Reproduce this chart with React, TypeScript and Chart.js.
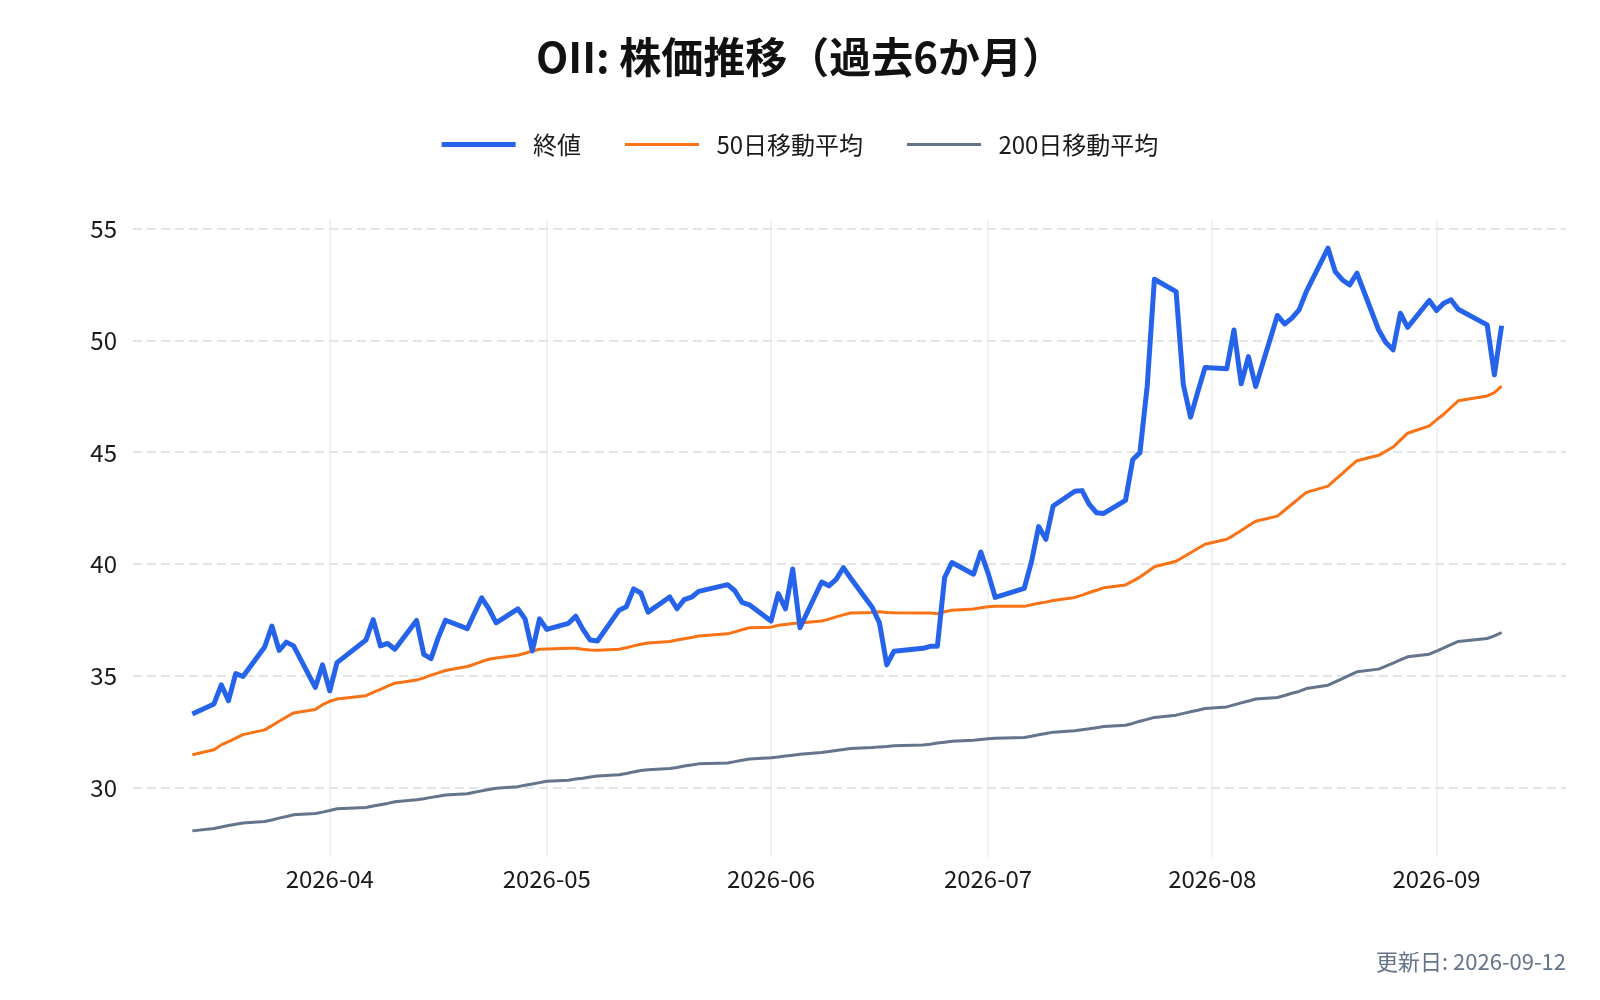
import { useEffect, useRef } from "react";
import Chart from "chart.js/auto";

// trading days (business days, US holidays skipped)
const dates = [
  "2026-03-13", "2026-03-16", "2026-03-17", "2026-03-18", "2026-03-19", "2026-03-20", "2026-03-23", "2026-03-24", "2026-03-25", "2026-03-26", "2026-03-27", "2026-03-30", "2026-03-31",
  "2026-04-01", "2026-04-02", "2026-04-06", "2026-04-07", "2026-04-08", "2026-04-09", "2026-04-10", "2026-04-13", "2026-04-14", "2026-04-15", "2026-04-16", "2026-04-17", "2026-04-20", "2026-04-21", "2026-04-22", "2026-04-23", "2026-04-24", "2026-04-27", "2026-04-28", "2026-04-29", "2026-04-30",
  "2026-05-01", "2026-05-04", "2026-05-05", "2026-05-06", "2026-05-07", "2026-05-08", "2026-05-11", "2026-05-12", "2026-05-13", "2026-05-14", "2026-05-15", "2026-05-18", "2026-05-19", "2026-05-20", "2026-05-21", "2026-05-22", "2026-05-26", "2026-05-27", "2026-05-28", "2026-05-29",
  "2026-06-01", "2026-06-02", "2026-06-03", "2026-06-04", "2026-06-05", "2026-06-08", "2026-06-09", "2026-06-10", "2026-06-11", "2026-06-12", "2026-06-15", "2026-06-16", "2026-06-17", "2026-06-18", "2026-06-22", "2026-06-23", "2026-06-24", "2026-06-25", "2026-06-26", "2026-06-29", "2026-06-30",
  "2026-07-01", "2026-07-02", "2026-07-06", "2026-07-07", "2026-07-08", "2026-07-09", "2026-07-10", "2026-07-13", "2026-07-14", "2026-07-15", "2026-07-16", "2026-07-17", "2026-07-20", "2026-07-21", "2026-07-22", "2026-07-23", "2026-07-24", "2026-07-27", "2026-07-28", "2026-07-29", "2026-07-30", "2026-07-31",
  "2026-08-03", "2026-08-04", "2026-08-05", "2026-08-06", "2026-08-07", "2026-08-10", "2026-08-11", "2026-08-12", "2026-08-13", "2026-08-14", "2026-08-17", "2026-08-18", "2026-08-19", "2026-08-20", "2026-08-21", "2026-08-24", "2026-08-25", "2026-08-26", "2026-08-27", "2026-08-28", "2026-08-31",
  "2026-09-01", "2026-09-02", "2026-09-03", "2026-09-04", "2026-09-08", "2026-09-09", "2026-09-10",
];

const closePrices = [
  33.29, 33.74, 34.6, 33.89, 35.1, 34.97, 36.29, 37.23, 36.14, 36.51, 36.34, 34.48, 35.49,
  34.33, 35.59, 36.6, 37.52, 36.34, 36.45, 36.19, 37.48, 35.96, 35.77, 36.71, 37.49, 37.11, 37.8, 38.49, 38.0, 37.37, 38.0, 37.55, 36.11, 37.55,
  37.08, 37.35, 37.67, 37.08, 36.6, 36.56, 37.94, 38.09, 38.89, 38.71, 37.85, 38.53, 38.0, 38.41, 38.52, 38.78, 39.08, 38.81, 38.29, 38.18,
  37.45, 38.68, 38.0, 39.78, 37.15, 39.2, 39.03, 39.32, 39.84, 39.38, 38.06, 37.36, 35.49, 36.1, 36.23, 36.32, 36.32, 39.4, 40.07, 39.55, 40.54,
  39.6, 38.51, 38.91, 40.1, 41.68, 41.11, 42.6, 43.26, 43.29, 42.67, 42.3, 42.27, 42.85, 44.67, 44.99, 47.95, 52.75, 52.2, 48.03, 46.58, 47.71, 48.8,
  48.74, 50.48, 48.07, 49.29, 47.95, 51.13, 50.75, 51.01, 51.38, 52.2, 54.14, 53.09, 52.72, 52.5, 53.02, 50.48, 49.92, 49.59, 51.23, 50.6, 51.8,
  51.35, 51.68, 51.83, 51.41, 50.71, 48.47, 50.67,
];

const ma50 = [
  31.47, 31.69, 31.91, 32.05, 32.21, 32.37, 32.58, 32.77, 32.97, 33.16, 33.34, 33.49, 33.71,
  33.86, 33.96, 34.11, 34.26, 34.39, 34.54, 34.67, 34.81, 34.91, 35.03, 35.13, 35.24, 35.42, 35.52, 35.64, 35.74, 35.8, 35.92, 36.01, 36.11, 36.19,
  36.2, 36.23, 36.23, 36.19, 36.16, 36.14, 36.19, 36.26, 36.34, 36.41, 36.47, 36.54, 36.6, 36.66, 36.72, 36.78, 36.88, 36.97, 37.06, 37.15,
  37.18, 37.26, 37.3, 37.34, 37.37, 37.45, 37.54, 37.64, 37.73, 37.81, 37.84, 37.87, 37.84, 37.82, 37.81, 37.81, 37.78, 37.87, 37.94, 37.99, 38.05,
  38.09, 38.11, 38.11, 38.18, 38.25, 38.3, 38.37, 38.51, 38.61, 38.73, 38.83, 38.94, 39.07, 39.24, 39.42, 39.65, 39.88, 40.13, 40.32, 40.51, 40.7, 40.89,
  41.11, 41.3, 41.51, 41.72, 41.92, 42.15, 42.41, 42.68, 42.94, 43.21, 43.49, 43.78, 44.06, 44.35, 44.63, 44.87, 45.05, 45.24, 45.55, 45.86, 46.19,
  46.46, 46.71, 47.01, 47.31, 47.53, 47.68, 47.97,
];

const ma200 = [
  28.06, 28.17, 28.23, 28.3, 28.36, 28.41, 28.48, 28.55, 28.63, 28.7, 28.78, 28.84, 28.9,
  28.97, 29.05, 29.11, 29.17, 29.23, 29.29, 29.36, 29.45, 29.5, 29.56, 29.61, 29.67, 29.72, 29.79, 29.85, 29.91, 29.97, 30.04, 30.1, 30.16, 30.22,
  30.28, 30.33, 30.38, 30.42, 30.47, 30.52, 30.57, 30.63, 30.7, 30.76, 30.8, 30.85, 30.9, 30.96, 31.01, 31.06, 31.1, 31.16, 31.22, 31.28,
  31.33, 31.37, 31.41, 31.45, 31.49, 31.57, 31.61, 31.66, 31.7, 31.75, 31.79, 31.82, 31.84, 31.87, 31.9, 31.94, 31.99, 32.03, 32.07, 32.12, 32.15,
  32.18, 32.21, 32.24, 32.3, 32.36, 32.42, 32.48, 32.54, 32.59, 32.63, 32.68, 32.73, 32.79, 32.87, 32.97, 33.05, 33.14, 33.24, 33.32, 33.39, 33.46, 33.54,
  33.61, 33.7, 33.79, 33.87, 33.96, 34.03, 34.12, 34.22, 34.3, 34.43, 34.58, 34.73, 34.88, 35.03, 35.18, 35.3, 35.43, 35.57, 35.71, 35.85, 35.97,
  36.11, 36.25, 36.4, 36.54, 36.67, 36.79, 36.94,
];

const monthTicks = ["2026-04", "2026-05", "2026-06", "2026-07", "2026-08", "2026-09"];
const yTicks = [30, 35, 40, 45, 50, 55];

// date string -> days since epoch (month strings count as the 1st)
const dayNum = (s: string) => {
  const [y, m, d] = s.split("-").map(Number);
  return Date.UTC(y, m - 1, d || 1) / 86400000;
};

const FONT = '"Noto Sans CJK JP", "Noto Sans", sans-serif';

// push the plot area down below the legend
const legendGap = {
  id: "legendGap",
  beforeInit(chart: any) {
    if (!chart.legend) return;
    const fit = chart.legend.fit;
    chart.legend.fit = function () {
      fit.call(this);
      this.height += 53;
    };
  },
};

export default function App() {
  const canvasRef = useRef<HTMLCanvasElement>(null);

  useEffect(() => {
    document.body.style.margin = "0";
    if (!canvasRef.current) return;
    Chart.defaults.font.family = FONT;

    const xs = dates.map(dayNum);
    const toPoints = (vals: number[]) => vals.map((v, i) => ({ x: xs[i], y: v }));
    const first = xs[0];
    const last = xs[xs.length - 1];

    const chart = new Chart(canvasRef.current, {
      type: "line",
      data: {
        datasets: [
          {
            label: "終値",
            data: toPoints(closePrices),
            borderColor: "#2563eb",
            backgroundColor: "#2563eb",
            borderWidth: 5,
            pointRadius: 0,
            borderJoinStyle: "round",
          },
          {
            label: "50日移動平均",
            data: toPoints(ma50),
            borderColor: "#f97316",
            backgroundColor: "#f97316",
            borderWidth: 3,
            pointRadius: 0,
            borderJoinStyle: "round",
          },
          {
            label: "200日移動平均",
            data: toPoints(ma200),
            borderColor: "#64748b",
            backgroundColor: "#64748b",
            borderWidth: 3,
            pointRadius: 0,
            borderJoinStyle: "round",
          },
        ],
      },
      options: {
        animation: false,
        responsive: true,
        maintainAspectRatio: false,
        layout: { padding: { left: 34, right: 34, top: 0, bottom: 0 } },
        plugins: {
          title: {
            display: true,
            text: "OII: 株価推移（過去6か月）",
            color: "#111111",
            font: { size: 42, weight: "bold" },
            padding: { top: 32, bottom: 6 },
          },
          subtitle: {
            display: true,
            position: "bottom",
            align: "end",
            text: "更新日: 2026-09-12",
            color: "#64748b",
            font: { size: 22, weight: "normal" },
            padding: { top: 47, bottom: 25 },
          },
          legend: {
            position: "top",
            labels: {
              usePointStyle: true,
              pointStyle: "line",
              pointStyleWidth: 74,
              color: "#1a1a1a",
              font: { size: 24 },
              padding: 44,
              // a little more room between the line sample and its text
              generateLabels: (c: any) =>
                Chart.defaults.plugins.legend.labels
                  .generateLabels(c)
                  .map((item: any) => ({ ...item, text: " " + item.text })),
            },
          },
          tooltip: { enabled: false },
        },
        scales: {
          x: {
            type: "linear",
            min: first - 8.2,
            max: last + 8.9,
            grid: { color: "#eef1f6", lineWidth: 2, drawTicks: false },
            border: { display: false },
            afterBuildTicks: (scale: any) => {
              scale.ticks = monthTicks.map((m) => ({ value: dayNum(m) }));
            },
            ticks: {
              autoSkip: false,
              maxRotation: 0,
              padding: 8,
              color: "#1a1a1a",
              font: { size: 24 },
              callback: (value: any) => {
                const idx = monthTicks.findIndex((m) => dayNum(m) === value);
                return idx >= 0 ? monthTicks[idx] : "";
              },
            },
          },
          y: {
            min: 26.9,
            max: 55.43,
            grid: { color: "#e3e5ea", lineWidth: 2, drawTicks: false },
            border: { display: false, dash: [9, 5] },
            afterBuildTicks: (scale: any) => {
              scale.ticks = yTicks.map((v) => ({ value: v }));
            },
            afterFit: (scale: any) => {
              scale.width = 99;
            },
            ticks: {
              padding: 16,
              color: "#1a1a1a",
              font: { size: 24 },
              callback: (value: any) => String(value),
            },
          },
        },
      },
      plugins: [legendGap],
    });

    return () => chart.destroy();
  }, []);

  return (
    <div style={{ width: 1600, height: 1000, position: "relative", background: "#ffffff" }}>
      <canvas ref={canvasRef} />
    </div>
  );
}
